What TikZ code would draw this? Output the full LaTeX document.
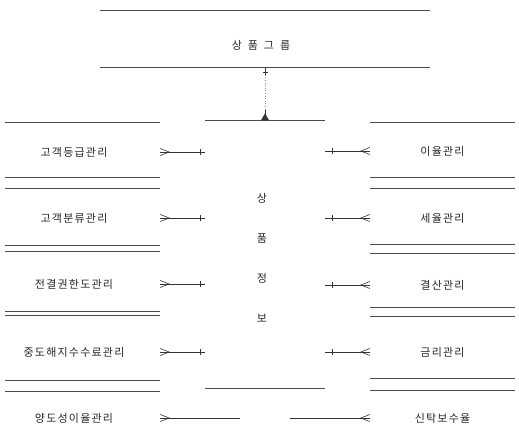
\documentclass[tikz,border=0pt]{standalone}
\usepackage{fontspec}
\newfontfamily\kr{Noto Sans CJK KR}[LetterSpace=11]
\usetikzlibrary{calc}
\begin{document}
\begin{tikzpicture}[x=1pt,y=-1pt,
  eline/.style={draw=black!70,line width=0.6pt},
  rel/.style={draw=black!80,line width=0.6pt},
  lbl/.style={font=\kr\fontsize{11}{12}\selectfont,inner sep=0pt,text=black!85},
  lent/.style={lbl,minimum width=172pt},
  rent/.style={lbl,minimum width=145pt},
  vtext/.style={font=\kr\fontsize{11}{40}\selectfont,inner sep=0pt,align=center,text=black!85}]
\useasboundingbox (0,0) rectangle (519,442);

% top entity
\node[lbl] (grp) at (261,45) {상\hspace{6pt}품\hspace{6pt}그\hspace{6pt}룹};
\draw[eline] (100,10) -- (430,10);
\draw[eline] (100,67) -- (430,67);
\coordinate (gb) at (265,67);

% center entity
\coordinate (cbw) at (205,120);
\coordinate (cbe) at (325,120);
\coordinate (ct) at (265,120);
\draw[eline] (cbw) -- (cbe);
\draw[eline] (205,388) -- (325,388);
\node[vtext] (info) at (262,257.5) {상\\품\\정\\보};

% group -> info
\draw[rel,draw=black!45,dotted] (gb) -- (ct);
\draw[rel] (gb) -- ++(0,8);
\draw[rel] ($(gb)+(-2.5,5)$) -- ++(5,0);
\draw[rel] ($(ct)+(0,-10)$) -- (ct);
\draw[rel,fill=black!80] ($(ct)+(-3.5,0)$) -- ++(3.5,-6) -- ++(3.5,6) -- cycle;

% left entities
\foreach \y in {122,177,188,245,251,311,315,380,391}
  \draw[eline] (5,\y) -- (160,\y);
\node[lent] (L1) at (74,152) {고객등급관리};
\node[lent] (L2) at (74,218) {고객분류관리};
\node[lent] (L3) at (74,284) {전결권한도관리};
\node[lent] (L4) at (74,352) {중도해지수수료관리};
\node[lent] (L5) at (74,418) {양도성이율관리};

% right entities
\foreach \y in {122,177,188,244,253,307,316,378,390}
  \draw[eline] (370,\y) -- (515,\y);
\node[rent] (R1) at (442.5,151) {이율관리};
\node[rent] (R2) at (442.5,218) {세율관리};
\node[rent] (R3) at (442.5,285) {결산관리};
\node[rent] (R4) at (442.5,352) {금리관리};
\node[rent] (R5) at (442.5,418) {신탁보수율};

% left relationships
\foreach \n in {L1,L2,L3,L4}{
  \draw[rel] (\n.east) -- (\n.east -| cbw);
  \draw[rel] ($(\n.east)+(0,-3.5)$) -- ++(9,3.5) -- ++(-9,3.5);
  \draw[rel] ($(\n.east -| cbw)+(-5,-3)$) -- ++(0,6);
}
\coordinate (l5e) at (240,418);
\draw[rel] (L5.east) -- (l5e);
\draw[rel] ($(L5.east)+(0,-3.5)$) -- ++(9,3.5) -- ++(-9,3.5);

% right relationships
\foreach \n in {R1,R2,R3,R4}{
  \draw[rel] (\n.west) -- (\n.west -| cbe);
  \draw[rel] ($(\n.west)+(0,-3.5)$) -- ++(-9,3.5) -- ++(9,3.5);
  \draw[rel] ($(\n.west -| cbe)+(7,-3)$) -- ++(0,6);
}
\coordinate (r5e) at (290,418);
\draw[rel] (R5.west) -- (r5e);
\draw[rel] ($(R5.west)+(0,-3.5)$) -- ++(-9,3.5) -- ++(9,3.5);
\end{tikzpicture}
\end{document}
